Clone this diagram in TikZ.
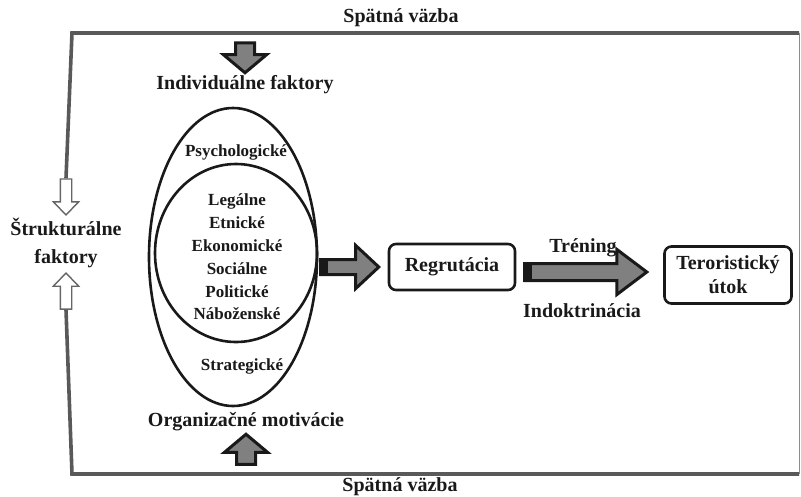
\documentclass[tikz,border=0pt]{standalone}
\usepackage{fontspec}
\setmainfont{Liberation Serif}
\usetikzlibrary{arrows.meta,positioning,calc,shapes.geometric,shapes.arrows}

\begin{document}
\begin{tikzpicture}[
  x=1pt, y=-1pt,
  font=\fontsize{20}{28}\selectfont\bfseries,
  lbl/.style={text=black!90, align=center, inner sep=1pt},
  item/.style={text=black!90, align=center, inner sep=1pt,
    font=\fontsize{17}{22.8}\selectfont\bfseries},
  venn/.style={draw=black!90, line width=2.6pt, ellipse, inner sep=0pt},
  box/.style={draw=black!90, line width=2.6pt, rounded corners=7pt,
    align=center, text=black!90, inner sep=2pt},
  loop/.style={draw=black!65, line width=3.6pt},
  blk/.style={single arrow, draw=black!90, fill=black!50, line width=3pt,
    single arrow head indent=0pt},
  hollow/.style={single arrow, draw=black!60, fill=white, line width=1.4pt,
    inner sep=5pt, minimum height=36pt,
    single arrow head extend=7pt, single arrow tip angle=88}
]
\useasboundingbox (0,0) rectangle (801,496);

% ── feedback frame ──────────────────────────────────────────────────────
\coordinate (nw) at (72,33);
\coordinate (ne) at (799,33);
\coordinate (se) at (799,474);
\coordinate (sw) at (72,474);
\node[lbl] (fbtop) at (401,18) {Spätná väzba};
\node[lbl] (fbbot) at (400,487) {Spätná väzba};
\node[lbl] (struk) at (66,243) {Štrukturálne\\faktory};
\node[hollow, shape border rotate=270, anchor=tip] (hdown) at ([yshift=1pt]struk.north) {};
\node[hollow, shape border rotate=90, anchor=tip] (hup) at ([yshift=-3pt]struk.south) {};

% ── motivations ─────────────────────────────────────────────────────────
\node[venn, minimum width=168pt, minimum height=298pt] (outer) at (233,257) {};
\node[venn, minimum width=162pt, minimum height=178pt] (inner) at (236,253) {};
\node[item] (psy) at (236,152) {Psychologické};
\node[item] (list) at (237,257)
  {Legálne\\Etnické\\Ekonomické\\Sociálne\\Politické\\Náboženské};
\node[item] (strat) at (242,366) {Strategické};
\node[lbl] (ind) at (245,85) {Individuálne faktory};
\node[lbl] (org) at (246,422) {Organizačné motivácie};
\node[blk, shape border rotate=270, minimum height=30pt, inner sep=8pt,
  single arrow head extend=12pt, single arrow tip angle=100]
  (adown) at ($(nw -| ind)!0.5!(ind.north)$) {};
\node[blk, shape border rotate=90, minimum height=30pt, inner sep=8pt,
  single arrow head extend=12pt, single arrow tip angle=100]
  (aup) at ($(org.south)!0.5!(sw -| org)$) {};

% ── recruitment chain ───────────────────────────────────────────────────
\node[box, minimum width=126pt, minimum height=46pt] (reg) at (452,267) {Regrutácia};
\node[box, minimum width=127pt, minimum height=57pt] (ter) at (728,275)
  {Teroristický\\[-4pt]útok};
\node[blk, anchor=tail, minimum height=58pt, inner sep=6pt,
  single arrow head extend=14pt, single arrow tip angle=86]
  (a1) at ([xshift=1pt]outer.east |- reg.west) {};
\node[blk, anchor=tail, minimum height=122pt, inner sep=7pt,
  single arrow head extend=14pt, single arrow tip angle=74]
  (a2) at ([xshift=7pt, yshift=-5pt]reg.east) {};
\fill[black!90] (a1.before tail) rectangle ($(a1.after tail)+(9,0)$);
\fill[black!90] (a2.before tail) rectangle ($(a2.after tail)+(9,0)$);
\node[lbl] (tren) at (583,248) {Tréning};
\node[lbl] (indok) at (582,311) {Indoktrinácia};

% ── loop lines ──────────────────────────────────────────────────────────
\draw[loop] (hdown.tail) -- (nw) -- (ne);
\draw[loop] (hup.tail) -- (sw) -- (se);
\draw[draw=black!45, line width=1pt] (ne) -- (se);

\end{tikzpicture}
\end{document}
